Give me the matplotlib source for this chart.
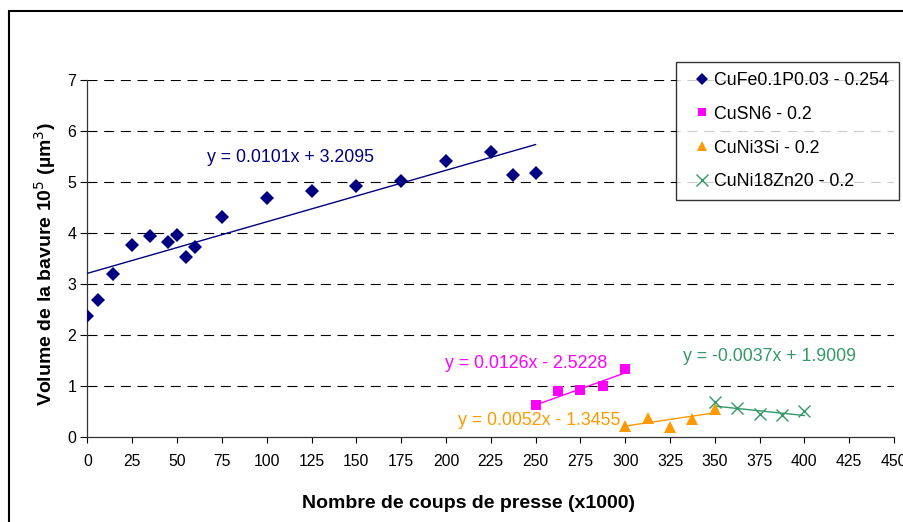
import matplotlib
matplotlib.use('Agg')
import matplotlib.pyplot as plt
from matplotlib.patches import Rectangle
from matplotlib.lines import Line2D

plt.rcParams['font.family'] = ['Liberation Sans', 'DejaVu Sans']

# CuFe0.1P0.03 - 0.254
cufe_x = [0, 6, 14, 25, 35, 45, 50, 55, 60, 75, 100, 125, 150, 175, 200, 225, 237.5, 250]
cufe_y = [2.37, 2.69, 3.20, 3.77, 3.94, 3.82, 3.97, 3.53, 3.72, 4.31, 4.69, 4.82, 4.93, 5.01, 5.42, 5.59, 5.13, 5.18]
# CuSN6 - 0.2
cusn_x = [250, 262.5, 275, 287.5, 300]
cusn_y = [0.62, 0.91, 0.93, 1.00, 1.33]
# CuNi3Si - 0.2
cunisi_x = [300, 312.5, 325, 337.5, 350]
cunisi_y = [0.21, 0.38, 0.19, 0.36, 0.54]
# CuNi18Zn20 - 0.2
cunizn_x = [350, 362.5, 375, 387.5, 400]
cunizn_y = [0.69, 0.56, 0.46, 0.44, 0.51]

labels = ['CuFe0.1P0.03 - 0.254', 'CuSN6 - 0.2', 'CuNi3Si - 0.2', 'CuNi18Zn20 - 0.2']
colors = ['#000080', '#FF00FF', '#FF9900', '#339966']
markers = ['D', 's', '^', 'x']
msizes = [7, 6.5, 8, 8]

# trendlines as shown on the chart: slope, intercept
slopes = [0.0101, 0.0126, 0.0052, -0.0037]
intercepts = [3.2095, -2.5228, -1.3455, 1.9009]
eq_texts = ['y = 0.0101x + 3.2095', 'y = 0.0126x - 2.5228',
            'y = 0.0052x - 1.3455', 'y = -0.0037x + 1.9009']
eq_pos = [(66.5, 5.49), (199.5, 1.45), (206.5, 0.33), (332, 1.57)]

series = [(cufe_x, cufe_y), (cusn_x, cusn_y), (cunisi_x, cunisi_y), (cunizn_x, cunizn_y)]

fig = plt.figure(figsize=(9.04, 5.22), dpi=100)
ax = fig.add_axes([87.5 / 904, 85 / 522, (894 - 87.5) / 904, (437 - 80) / 522])

for i, (xs, ys) in enumerate(series):
    x0, x1 = xs[0], xs[-1]
    ax.plot([x0, x1], [slopes[i] * x0 + intercepts[i], slopes[i] * x1 + intercepts[i]],
            color=colors[i], lw=1.0, zorder=3)
    if markers[i] == 'x':
        ax.plot(xs, ys, linestyle='none', marker='x', ms=msizes[i], mew=1.0,
                color=colors[i], zorder=4)
    else:
        ax.plot(xs, ys, linestyle='none', marker=markers[i], ms=msizes[i], mew=0,
                color=colors[i], zorder=4)
    ax.text(eq_pos[i][0], eq_pos[i][1], eq_texts[i], color=colors[i], fontsize=12.8,
            ha='left', va='center')

ax.set_xlim(0, 450)
ax.set_ylim(0, 7)
ax.set_xticks(range(0, 451, 25))
ax.set_yticks(range(0, 8))
ax.tick_params(axis='x', direction='out', length=4.5, width=0.8, labelsize=11.3, pad=8)
ax.tick_params(axis='y', direction='out', length=5, width=0.8, labelsize=11.5, pad=3)
for y in range(1, 8):
    ax.axhline(y, color='black', lw=0.8, linestyle=(0, (9, 6)), zorder=1)

for s in ['top', 'right']:
    ax.spines[s].set_visible(False)
for s in ['left', 'bottom']:
    ax.spines[s].set_linewidth(0.9)
    ax.spines[s].set_color('#333333')

fig.text(469 / 904, 1 - 503 / 522, 'Nombre de coups de presse (x1000)', fontsize=14,
         fontweight='bold', ha='center', va='center')
fig.text(45 / 904, 1 - 264 / 522, 'Volume de la bavure 10$^5$ (µm$^3$)', fontsize=14,
         fontweight='bold', ha='center', va='center', rotation=90)

handles = []
for i in range(4):
    if markers[i] == 'x':
        handles.append(Line2D([], [], linestyle='none', marker='x', ms=8, mew=1.0, color=colors[i]))
    else:
        handles.append(Line2D([], [], linestyle='none', marker=markers[i], ms=msizes[i] - 0.5, mew=0,
                              color=colors[i]))
leg = ax.legend(handles, labels, loc='upper left', bbox_to_anchor=(676 / 904, 1 - 62 / 522),
                bbox_transform=fig.transFigure, fontsize=12.8, frameon=True, fancybox=False,
                handlelength=1.85, handletextpad=-0.25, labelspacing=0.95, borderpad=0.55,
                borderaxespad=0)
leg.get_frame().set_edgecolor('black')
leg.get_frame().set_linewidth(1.0)

# outer chart border
fig.patches.append(Rectangle((8.5 / 904, -0.1), 1.2, 1.1 - 10.5 / 522, transform=fig.transFigure,
                             fill=False, edgecolor='black', lw=1.5))

plt.savefig('out.png', dpi=100)
